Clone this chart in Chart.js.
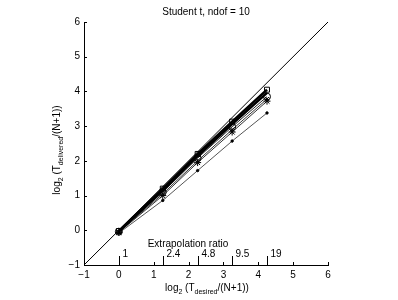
<!DOCTYPE html>
<html>
<head>
<meta charset="utf-8">
<script src="https://cdn.jsdelivr.net/npm/chart.js@4"></script>
<style>
  html, body { margin: 0; padding: 0; background: #fff; }
  #wrap { width: 398px; height: 300px; }
</style>
</head>
<body>
<div id="wrap"><canvas id="c" width="398" height="300"></canvas></div>
<script>
'use strict'

// extrapolation ratios and their log2 positions on the x axis
const ratioLabels = ['1', '2.4', '4.8', '9.5', '19'];
const xDesired = [0, 1.26, 2.26, 3.25, 4.25];

// log2(T_delivered/(N+1)) per method
const squareVals = [-0.02, 1.2, 2.2, 3.13, 4.05];
const thickVals = [-0.03, 1.15, 2.14, 3.06, 3.96];
const circleVals = [-0.04, 1.1, 2.08, 2.98, 3.85];
const plusVals = [-0.05, 1.05, 2.0, 2.9, 3.78];
const starVals = [-0.06, 1.0, 1.95, 2.83, 3.72];
const dotVals = [-0.08, 0.86, 1.72, 2.57, 3.38];

const diagX = [-1, 6];

const toPts = vals => vals.map((v, i) => ({ x: xDesired[i], y: v }));
const FONT = '"Liberation Sans", Arial, sans-serif';

const series = (vals, style, width, color, radius) => ({
    data: toPts(vals),
    borderColor: color,
    backgroundColor: 'rgba(0,0,0,0)',
    pointBorderColor: '#000',
    pointBackgroundColor: style === 'circle' && radius < 2 ? '#000' : 'rgba(0,0,0,0)',
    borderWidth: width,
    pointStyle: style,
    pointRadius: radius,
    pointBorderWidth: 1,
    showLine: true
});

// text with a subscript part, drawn at (x,y) centered
function subText(ctx, parts, x, y, rotate) {
    ctx.save();
    ctx.translate(x, y);
    if (rotate) ctx.rotate(-Math.PI / 2);
    const big = '10px ' + FONT, small = '7px ' + FONT;
    let total = 0;
    parts.forEach(p => { ctx.font = p.sub ? small : big; total += ctx.measureText(p.t).width; });
    let cx = -total / 2;
    ctx.fillStyle = '#000';
    ctx.textBaseline = 'middle';
    ctx.textAlign = 'left';
    parts.forEach(p => {
        ctx.font = p.sub ? small : big;
        ctx.fillText(p.t, cx, p.sub ? 4 : 0);
        cx += ctx.measureText(p.t).width;
    });
    ctx.restore();
}

const extras = {
    id: 'extras',
    afterDraw(chart) {
        const ctx = chart.ctx;
        const xs = chart.scales.x, ys = chart.scales.y;
        const area = chart.chartArea;
        ctx.save();
        ctx.strokeStyle = '#000';
        ctx.lineWidth = 1;
        // inward ticks
        for (let v = -1; v <= 6; v++) {
            const px = Math.round(xs.getPixelForValue(v)) + 0.5;
            ctx.beginPath(); ctx.moveTo(px, area.bottom); ctx.lineTo(px, area.bottom - 3); ctx.stroke();
            const py = Math.round(ys.getPixelForValue(v)) + 0.5;
            ctx.beginPath(); ctx.moveTo(area.left, py); ctx.lineTo(area.left + 3, py); ctx.stroke();
        }
        // extrapolation ratio axis
        ctx.font = '10px ' + FONT;
        ctx.fillStyle = '#000';
        ctx.textBaseline = 'middle';
        xDesired.forEach((v, i) => {
            const px = Math.round(xs.getPixelForValue(v)) + 0.5;
            ctx.beginPath(); ctx.moveTo(px, area.bottom); ctx.lineTo(px, area.bottom - 9); ctx.stroke();
            ctx.textAlign = 'left';
            ctx.fillText(ratioLabels[i], px + 3, area.bottom - 11);
        });
        ctx.textAlign = 'center';
        ctx.fillText('Extrapolation ratio', 188, area.bottom - 21);
        // title
        ctx.fillText('Student t, ndof = 10', 206, 12);
        ctx.restore();
        subText(ctx, [{ t: 'log' }, { t: '2', sub: true }, { t: ' (T' }, { t: 'desired', sub: true }, { t: '/(N+1))' }], 207, 288, false);
        subText(ctx, [{ t: 'log' }, { t: '2', sub: true }, { t: ' (T' }, { t: 'delivered', sub: true }, { t: '/(N+1))' }], 57, 150, true);
    }
};

new Chart(document.getElementById('c'), {
    type: 'scatter',
    data: {
        datasets: [
            {
                data: diagX.map(v => ({ x: v, y: v })),
                borderColor: '#000', borderWidth: 1, pointRadius: 0, showLine: true
            },
            series(squareVals, 'rect', 2.5, '#000', 3.5),
            series(thickVals, 'circle', 2.5, '#000', 0),
            series(circleVals, 'circle', 1, '#222', 3.5),
            series(plusVals, 'crossRot', 1, '#333', 3),
            series(starVals, 'star', 1, '#333', 3.5),
            series(dotVals, 'circle', 1, '#555', 1.2)
        ]
    },
    options: {
        responsive: false,
        animation: false,
        layout: { padding: { left: 0, right: 70, top: 22, bottom: 0 } },
        plugins: { legend: { display: false }, tooltip: { enabled: false } },
        scales: {
            x: {
                type: 'linear', min: -1, max: 6,
                ticks: { stepSize: 1, color: '#000', font: { family: FONT, size: 10 }, padding: 4, maxRotation: 0,
                    callback: v => v < 0 ? '\u22121' : v },
                grid: { display: true, drawOnChartArea: false, drawTicks: false },
                border: { color: '#000', width: 1 },
                afterFit: s => { s.height = 35; }
            },
            y: {
                type: 'linear', min: -1, max: 6,
                ticks: { stepSize: 1, color: '#000', font: { family: FONT, size: 10 }, padding: 4,
                    callback: v => v < 0 ? '\u22121' : v },
                grid: { display: true, drawOnChartArea: false, drawTicks: false },
                border: { color: '#000', width: 1 },
                afterFit: s => { s.width = 84; }
            }
        }
    },
    plugins: [extras]
});
</script>
</body>
</html>
